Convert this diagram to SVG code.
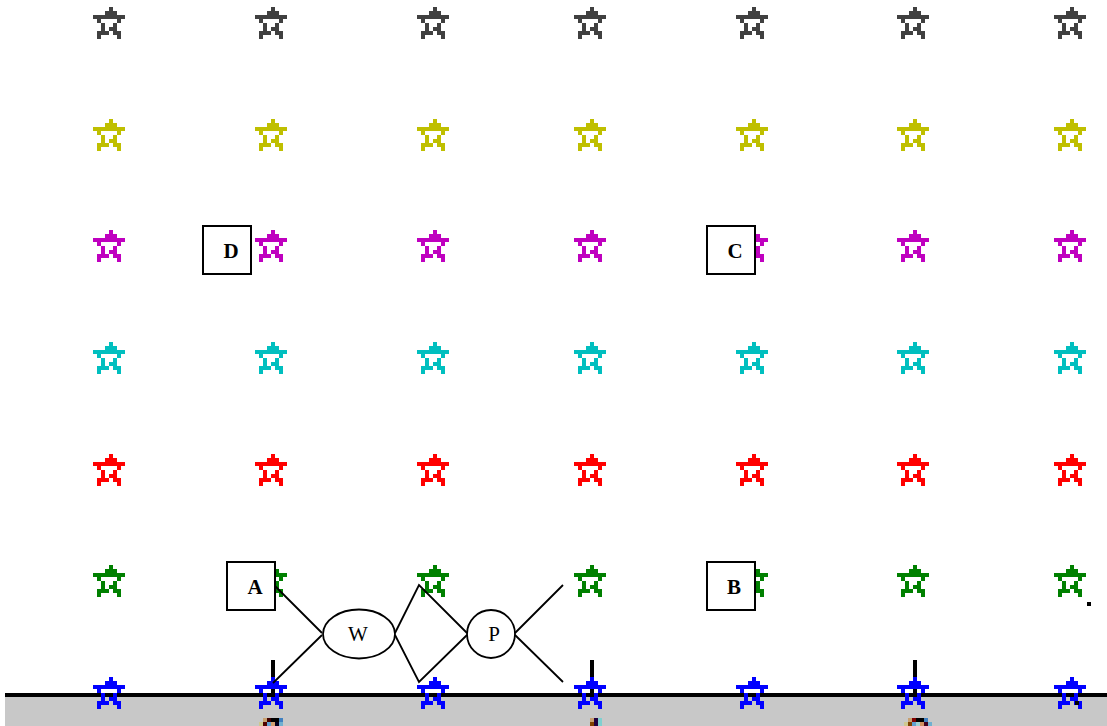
<svg xmlns="http://www.w3.org/2000/svg" xmlns:xlink="http://www.w3.org/1999/xlink" width="1107" height="726" viewBox="0 0 1107 726">
<style>
.box{fill:#fff;stroke:#000;stroke-width:2}
.ell{fill:#fff;stroke:#000;stroke-width:1.8}
.lbl{font-family:"Liberation Serif",serif;font-size:21px;font-weight:bold;text-anchor:middle}
.elbl{font-family:"Liberation Serif",serif;font-size:21px;text-anchor:middle}
.conn{stroke:#000;stroke-width:1.8;fill:none}
</style>
<defs>
<path id="star" d="M16,0h4v4h-4zM12,4h12v4h-12zM0,8h32v4h-32zM4,12h4v4h-4zM24,12h4v4h-4zM8,16h4v4h-4zM20,16h4v4h-4zM8,20h4v4h-4zM16,20h8v4h-8zM4,24h12v4h-12zM20,24h8v4h-8zM4,28h4v4h-4zM24,28h4v4h-4z"/>
<g id="row">
<use xlink:href="#star" x="93"/><use xlink:href="#star" x="255"/><use xlink:href="#star" x="417"/><use xlink:href="#star" x="574"/><use xlink:href="#star" x="736"/><use xlink:href="#star" x="897"/><use xlink:href="#star" x="1054"/>
</g>
</defs>
<rect width="1107" height="726" fill="#fff"/>
<rect x="5" y="697" width="1102" height="29" fill="#c8c8c8"/>
<rect x="5" y="693" width="1102" height="4" fill="#000"/>
<g id="ticks" fill="#000">
<rect x="271" y="660" width="4" height="41"/>
<rect x="590" y="660" width="4" height="41"/>
<rect x="913" y="660" width="4" height="41"/>
</g>
<g id="stars">
<use xlink:href="#row" y="7" fill="#404040"/>
<use xlink:href="#row" y="119" fill="#bfbf00"/>
<use xlink:href="#row" y="230" fill="#bf00bf"/>
<use xlink:href="#row" y="342" fill="#00bfbf"/>
<use xlink:href="#row" y="454" fill="#ff0000"/>
<use xlink:href="#row" y="565" fill="#008000"/>
<use xlink:href="#row" y="677" fill="#0000ff"/>
</g>
<g id="specks">
<rect x="1087" y="602" width="4" height="4" fill="#000"/>
<rect x="1075" y="701" width="4" height="4" fill="#000"/>
<rect x="263" y="718" width="4" height="4" fill="#c8a070"/><rect x="267" y="718" width="4" height="4" fill="#400000"/><rect x="271" y="718" width="8" height="4" fill="#000"/><rect x="279" y="718" width="4" height="4" fill="#4080c0"/>
<rect x="259" y="722" width="4" height="4" fill="#d0c890"/><rect x="263" y="722" width="4" height="4" fill="#500000"/><rect x="267" y="722" width="4" height="4" fill="#60a0d0"/><rect x="271" y="722" width="4" height="4" fill="#d0a070"/><rect x="275" y="722" width="4" height="4" fill="#000020"/><rect x="279" y="722" width="4" height="4" fill="#70b0d0"/>
<rect x="590" y="718" width="4" height="4" fill="#c8a070"/><rect x="594" y="718" width="4" height="8" fill="#200040"/><rect x="598" y="718" width="4" height="8" fill="#80d0d0"/><rect x="590" y="722" width="4" height="4" fill="#804000"/>
<rect x="908" y="718" width="4" height="4" fill="#c8a070"/><rect x="912" y="718" width="4" height="4" fill="#800000"/><rect x="916" y="718" width="8" height="4" fill="#000"/><rect x="924" y="718" width="4" height="4" fill="#4080c0"/>
<rect x="904" y="722" width="4" height="4" fill="#d0c890"/><rect x="908" y="722" width="4" height="4" fill="#804000"/><rect x="912" y="722" width="4" height="4" fill="#60a0d0"/><rect x="916" y="722" width="4" height="4" fill="#a0d0d0"/><rect x="920" y="722" width="4" height="4" fill="#d09060"/><rect x="924" y="722" width="4" height="4" fill="#400020"/><rect x="928" y="722" width="4" height="4" fill="#70b0d0"/>
</g>
<g id="connectors">
<path class="conn" d="M275,586L322,633M322,635L273,683"/>
<path class="conn" d="M395,633L419,585L467,633M395,635L419,682L467,635"/>
<path class="conn" d="M515,633L563,585M515,635L563,682"/>
</g>
<g id="node-D"><rect class="box" x="203" y="226" width="48" height="48"/><text class="lbl" x="231" y="258">D</text></g>
<g id="node-C"><rect class="box" x="707" y="226" width="48" height="48"/><text class="lbl" x="735" y="258">C</text></g>
<g id="node-A"><rect class="box" x="227" y="562" width="48" height="48"/><text class="lbl" x="255" y="594">A</text></g>
<g id="node-B"><rect class="box" x="707" y="562" width="48" height="48"/><text class="lbl" x="734" y="594">B</text></g>
<g id="node-W"><ellipse class="ell" cx="359" cy="634" rx="36" ry="24.5"/><text class="elbl" x="358" y="641">W</text></g>
<g id="node-P"><circle class="ell" cx="491" cy="634" r="24"/><text class="elbl" x="494" y="641">P</text></g>
</svg>
